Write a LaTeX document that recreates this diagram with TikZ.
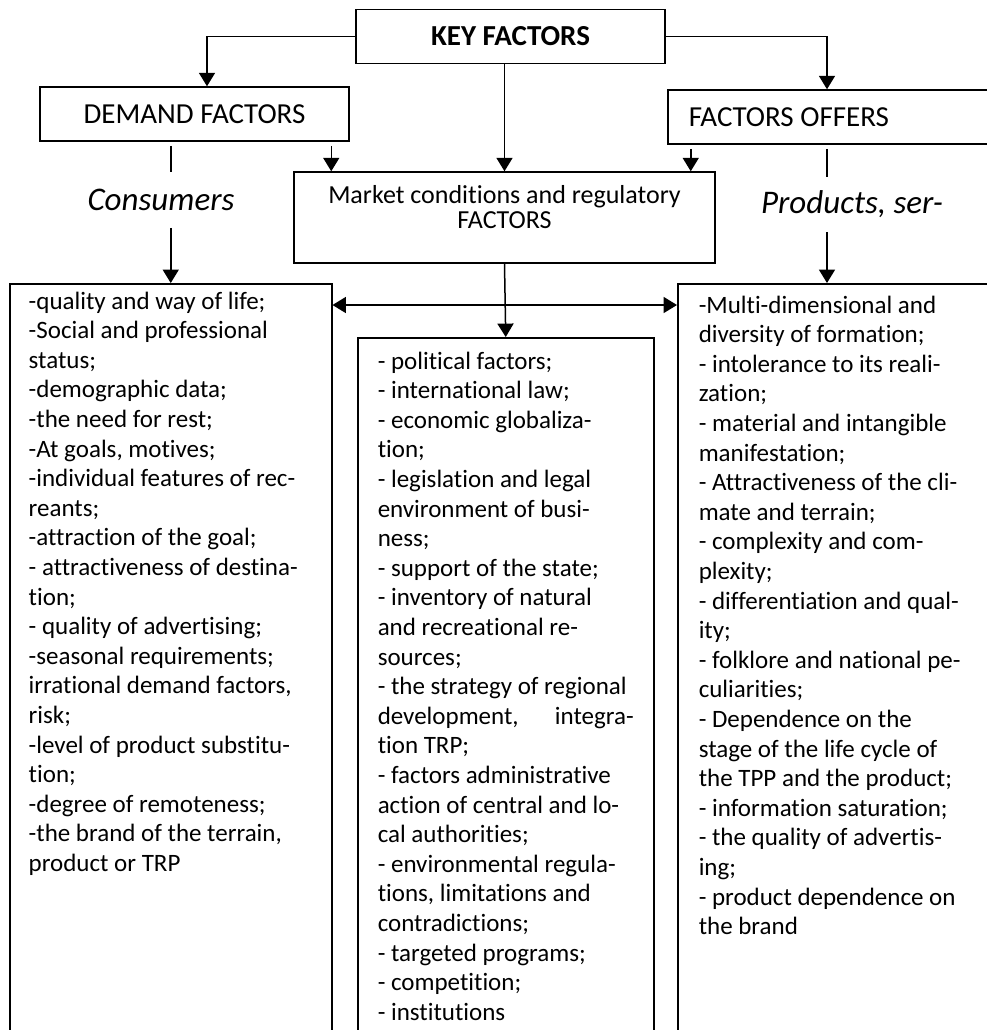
\documentclass[tikz,border=0pt]{standalone}
\usepackage{fontspec}
\setmainfont{Carlito}[Ligatures=NoCommon]
\usetikzlibrary{arrows.meta,calc}

\begin{document}
\begin{tikzpicture}[x=0.5pt, y=-0.5pt, line width=0.75pt,
    >={Triangle[length=6.7pt,width=8pt]},
    head/.style={draw, minimum width=154.5pt, minimum height=27pt, inner sep=0pt,
      font=\fontsize{14.5}{17}\selectfont},
    side/.style={minimum height=27pt, inner sep=0pt, font=\fontsize{16.5}{19}\selectfont\itshape},
    list/.style={draw, anchor=north west, align=flush left, inner ysep=4pt, text depth=600pt,
      font=\fontsize{12.5}{14.8}\selectfont}]
  \useasboundingbox (0,0) rectangle (987,1030);
  \clip (0,0) rectangle (987,1030);

  % Top boxes
  \node[head, font=\fontsize{14.5}{17}\selectfont\bfseries] (key) at (510.5,36.5) {KEY FACTORS};
  \node[head] (demand) at (194.5,114) {DEMAND FACTORS};
  \node[head, anchor=west, minimum width=0pt, inner xsep=10.5pt, text width=150pt, align=flush left]
    (offers) at (667,117) {FACTORS OFFERS};
  \node[draw, inner sep=0pt] (market) at (504.5,217.5)
    {\parbox[c][45.5pt][t]{210.5pt}{\centering\fontsize{13}{12.5}\selectfont
      \rule{0pt}{15.75pt}Market conditions and regulatory\\FACTORS}};

  % Side labels
  \node[side] (consumers) at (161,200) {Consumers};
  \node[side] (products) at (852,204.5) {Products, ser-};

  % Lists
  \node[list, inner xsep=9.5pt, text width=142pt] (leftbox) at (9,283) {
    -quality and way of life;\\
    -Social and professional\\
    status;\\
    -demographic data;\\
    -the need for rest;\\
    -At goals, motives;\\
    -individual features of rec-\\
    reants;\\
    -attraction of the goal;\\
    - attractiveness of destina-\\
    tion;\\
    - quality of advertising;\\
    -seasonal requirements;\\
    irrational demand factors,\\
    risk;\\
    -level of product substitu-\\
    tion;\\
    -degree of remoteness;\\
    -the brand of the terrain,\\
    product or TRP};
  \node[list, inner xsep=10pt, inner ysep=7pt, text width=128pt] (midbox) at (357,337) {
    - political factors;\\
    - international law;\\
    - economic globaliza-\\
    tion;\\
    - legislation and legal\\
    environment of busi-\\
    ness;\\
    - support of the state;\\
    - inventory of natural\\
    and recreational re-\\
    sources;\\
    - the strategy of regional\\
    development,\hfill integra-\\
    tion TRP;\\
    - factors administrative\\
    action of central and lo-\\
    cal authorities;\\
    - environmental regula-\\
    tions, limitations and\\
    contradictions;\\
    - targeted programs;\\
    - competition;\\
    - institutions};
  \node[list, inner xsep=10.5pt, inner ysep=6pt, text width=150pt] (rightbox) at (677,283) {
    -Multi-dimensional and\\
    diversity of formation;\\
    - intolerance to its reali-\\
    zation;\\
    - material and intangible\\
    manifestation;\\
    - Attractiveness of the cli-\\
    mate and terrain;\\
    - complexity and com-\\
    plexity;\\
    - differentiation and qual-\\
    ity;\\
    - folklore and national pe-\\
    culiarities;\\
    - Dependence on the\\
    stage of the life cycle of\\
    the TPP and the product;\\
    - information saturation;\\
    - the quality of advertis-\\
    ing;\\
    - product dependence on\\
    the brand};

  % Drop points
  \coordinate (oc) at ([xshift=80pt]offers.north west);
  \coordinate (mk1) at ([xshift=19pt]market.north west);
  \coordinate (mk2) at ([xshift=-12.5pt]market.north east);

  % Arrows from the key box
  \draw[->] (key.west) -| ([xshift=6.25pt]demand.north);
  \draw[->] (key.east) -| (oc);
  \draw[->] (key.south -| market.north) -- (market.north);

  % Into the market box
  \draw[->, shorten <=2pt] (demand.south -| mk1) -- (mk1);
  \draw[->, shorten <=2pt] (offers.south -| mk2) -- (mk2);

  % Down to the lists
  \draw[shorten <=2pt] (demand.south -| leftbox.north) -- (consumers.north -| leftbox.north);
  \draw[->] (consumers.south -| leftbox.north) -- (leftbox.north);
  \draw[shorten <=2pt] (offers.south -| oc) -- (products.north -| oc);
  \draw[->] (products.south -| oc) -- (rightbox.north -| oc);
  \draw[->] (market.south) -- (midbox.north);
  \draw[<->] ([yshift=-11pt]leftbox.north east) -- ([yshift=-11pt]rightbox.north west);
\end{tikzpicture}
\end{document}
